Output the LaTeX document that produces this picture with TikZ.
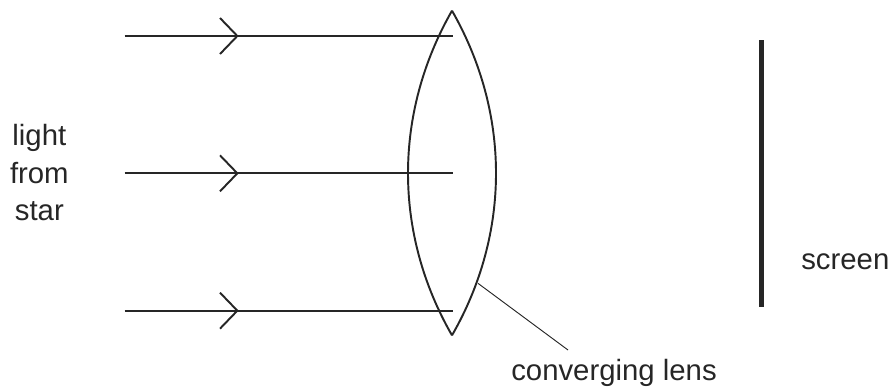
\documentclass[tikz,border=0pt]{standalone}
\usepackage{fontspec}
\setmainfont{Liberation Sans}
\usetikzlibrary{arrows}
\begin{document}
\begin{tikzpicture}[x=1pt,y=-1pt]
	\useasboundingbox (0,0) rectangle (669,290.25);
	\tikzset{ray/.style={line width=1.45pt, color=black!85}, lbl/.style={font=\fontsize{22}{28}\selectfont, align=center, inner sep=0pt, color=black!85}}
	\coordinate (ray1s) at (93.5,27);
	\coordinate (ray1e) at (340,27);
	\coordinate (ray2s) at (93.5,130);
	\coordinate (ray2e) at (340,130);
	\coordinate (ray3s) at (93.5,233);
	\coordinate (ray3e) at (340,233);
	\coordinate (lenstop) at (339,8);
	\coordinate (lensbot) at (339,251.5);
	\coordinate (scrtop) at (571,30);
	\coordinate (scrbot) at (571,230.5);
	\coordinate (ptr) at (358.5,212.5);
	\coordinate (ptrend) at (426,262.5);
	\draw[ray] (ray1s) -- (ray1e);
	\draw[ray] (ray2s) -- (ray2e);
	\draw[ray] (ray3s) -- (ray3e);
	\draw[ray] (165,13.5) -- (178,27) -- (165,40.5);
	\draw[ray] (165,116.5) -- (178,130) -- (165,143.5);
	\draw[ray] (165,219.5) -- (178,233) -- (165,246.5);
	\draw[ray] (lenstop) .. controls (295,85) and (295,175) .. (lensbot);
	\draw[ray] (lenstop) .. controls (383,85) and (383,175) .. (lensbot);
	\draw[line width=3.6pt, color=black!85] (scrtop) -- (scrbot);
	\draw[line width=0.7pt, color=black!85] (ptr) -- (ptrend);
	\node[lbl] (star) at (29.5,129.5) {light\\from\\star};
	\node[lbl] (screen) at (634,196.5) {screen};
	\node[lbl] (lens) at (460.5,279.5) {converging lens};
\end{tikzpicture}
\end{document}
